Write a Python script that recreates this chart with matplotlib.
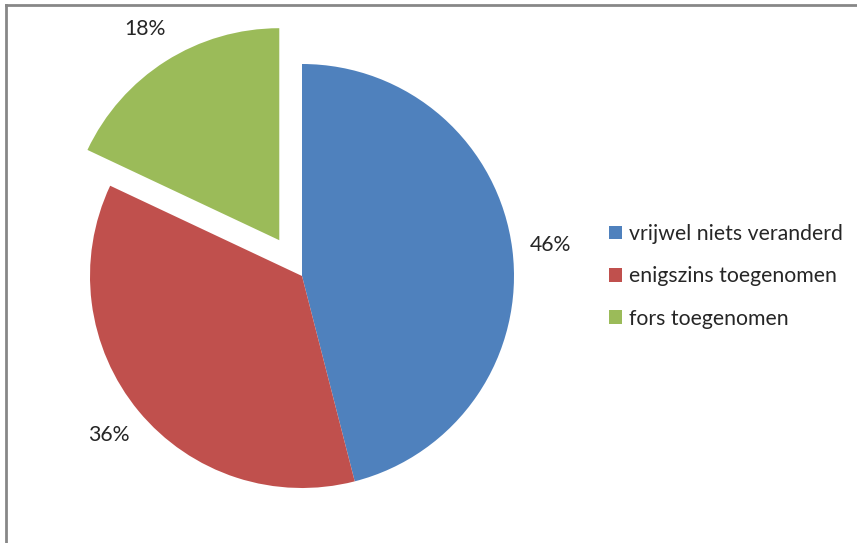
import matplotlib
matplotlib.use('Agg')
import matplotlib.pyplot as plt
from matplotlib.patches import Patch
from matplotlib.lines import Line2D

# --- Data ---
labels = ['vrijwel niets veranderd', 'enigszins toegenomen', 'fors toegenomen']
shares = [46, 36, 18]
explode = [0, 0, 0.2]
colors = ['#4F81BD', '#C0504D', '#9BBB59']

plt.rcParams['font.family'] = ['Lato', 'DejaVu Sans']
text_color = '#262626'
fsize = 15.3

W, H = 857, 543
fig = plt.figure(figsize=(W / 100, H / 100), dpi=100)

# pie axes: centre at (302, 276) px, radius 212 px
r_px = 212
lim = 1.25
size = 2 * lim * r_px
cx, cy = 302, H - 276
ax = fig.add_axes([(cx - size / 2) / W, (cy - size / 2) / H, size / W, size / H])

wedges, texts = ax.pie(shares, explode=explode, colors=colors, startangle=90,
                       counterclock=False, radius=1,
                       labels=[f'{v}%' for v in shares], labeldistance=1.18,
                       textprops=dict(fontsize=fsize, color=text_color),
                       wedgeprops=dict(linewidth=0))
for t in texts:
    t.set_horizontalalignment('center')
    t.set_verticalalignment('center')
ax.set_xlim(-lim, lim)
ax.set_ylim(-lim, lim)
ax.set_aspect('equal')
ax.axis('off')

# legend on the right
handles = [Patch(facecolor=c, edgecolor='none') for c in colors]
fig.legend(handles, labels, loc='upper left',
           bbox_to_anchor=(609 / W, 1 - 224 / H), frameon=False,
           fontsize=fsize, labelcolor=text_color, handlelength=0.6,
           handleheight=0.6, handletextpad=0.35, labelspacing=1.05,
           borderpad=0, borderaxespad=0)

# chart frame (top and left edges visible)
frame_kw = dict(color='#878787', linewidth=2, transform=fig.transFigure)
fig.add_artist(Line2D([6 / W, 1], [1 - 4.5 / H, 1 - 4.5 / H], **frame_kw))
fig.add_artist(Line2D([6 / W, 6 / W], [0, 1 - 4.5 / H], **frame_kw))

fig.savefig('out.png', dpi=100)
